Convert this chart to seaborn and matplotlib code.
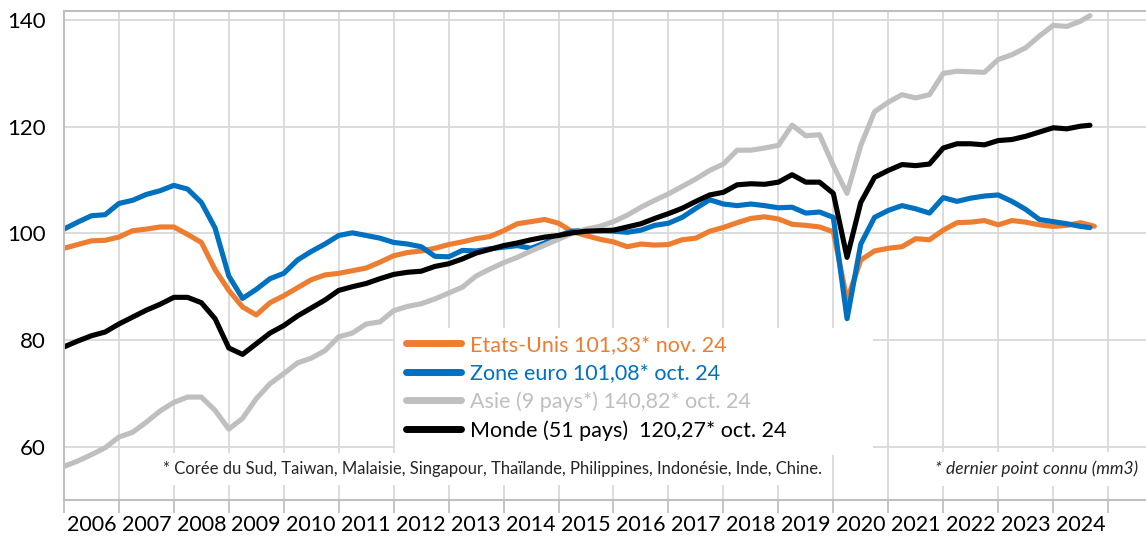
"""Production industrielle : Etats-Unis, zone euro, Asie, monde (base 100)"""

import numpy as np
import pandas as pd
import seaborn as sns
import matplotlib.pyplot as plt
from matplotlib.lines import Line2D
from matplotlib.patches import Rectangle

sns.set_style("whitegrid")
plt.rcParams['font.family'] = ['Lato', 'DejaVu Sans']

# valeurs trimestrielles (2006T1 ...), dernier point = dernier mois connu
etats_unis = [
    97.2, 97.9, 98.6, 98.7,      # 2006
    99.3, 100.5, 100.8, 101.2,   # 2007
    101.2, 99.8, 98.3, 93.2,     # 2008
    89.3, 86.2, 84.7, 87.0,      # 2009
    88.3, 89.8, 91.3, 92.2,      # 2010
    92.5, 93.0, 93.5, 94.6,      # 2011
    95.8, 96.4, 96.7, 97.2,      # 2012
    97.9, 98.4, 99.0, 99.4,      # 2013
    100.5, 101.8, 102.2, 102.6,  # 2014
    101.9, 100.3, 99.6, 98.9,    # 2015
    98.4, 97.5, 98.0, 97.8,      # 2016
    97.9, 98.8, 99.1, 100.4,     # 2017
    101.1, 102.0, 102.8, 103.1,  # 2018
    102.7, 101.7, 101.5, 101.2,  # 2019
    100.3, 87.5, 95.0, 96.7,     # 2020
    97.2, 97.5, 99.0, 98.8,      # 2021
    100.6, 102.0, 102.1, 102.4,  # 2022
    101.6, 102.4, 102.1, 101.6,  # 2023
    101.3, 101.5, 102.0, 101.33, # 2024
]
zone_euro = [
    100.8, 102.1, 103.3, 103.5,
    105.6, 106.2, 107.3, 108.0,
    109.0, 108.3, 105.8, 101.0,
    92.0, 87.8, 89.5, 91.5,
    92.5, 95.0, 96.6, 98.0,
    99.6, 100.1, 99.6, 99.1,
    98.3, 98.0, 97.5, 95.7,
    95.6, 96.8, 96.7, 97.1,
    97.4, 97.7, 97.2, 98.2,
    99.6, 100.4, 100.6, 100.5,
    100.4, 100.2, 100.6, 101.5,
    101.9, 103.0, 104.7, 106.3,
    105.5, 105.2, 105.5, 105.2,
    104.8, 104.9, 103.8, 104.0,
    103.0, 84.0, 98.0, 103.0,
    104.3, 105.2, 104.6, 103.8,
    106.7, 106.0, 106.6, 107.0,
    107.2, 106.0, 104.5, 102.6,
    102.2, 101.8, 101.3, 101.08,
]
asie = [
    56.3, 57.3, 58.5, 59.8,
    61.8, 62.7, 64.6, 66.7,
    68.3, 69.3, 69.3, 66.8,
    63.3, 65.3, 69.0, 71.8,
    73.7, 75.7, 76.6, 78.0,
    80.6, 81.3, 83.0, 83.4,
    85.5, 86.3, 86.8, 87.7,
    88.8, 89.9, 92.0, 93.3,
    94.5, 95.5, 96.7, 97.8,
    98.9, 100.0, 100.8, 101.3,
    102.2, 103.4, 104.9, 106.2,
    107.4, 108.8, 110.2, 111.8,
    113.0, 115.6, 115.6, 116.0,
    116.5, 120.3, 118.3, 118.5,
    112.7, 107.5, 116.5, 122.8,
    124.6, 126.0, 125.4, 126.0,
    130.0, 130.4, 130.3, 130.2,
    132.6, 133.5, 134.8, 137.0,
    139.0, 138.8, 139.8, 140.82,
]
monde = [
    78.7, 79.8, 80.8, 81.5,
    83.0, 84.3, 85.6, 86.7,
    88.0, 88.0, 87.0, 84.0,
    78.5, 77.3, 79.3, 81.3,
    82.7, 84.5, 86.0, 87.5,
    89.3, 90.0, 90.6, 91.5,
    92.3, 92.7, 92.9, 93.8,
    94.3, 95.2, 96.3, 97.0,
    97.7, 98.2, 98.8, 99.3,
    99.6, 100.1, 100.4, 100.5,
    100.6, 101.2, 101.8, 102.8,
    103.7, 104.7, 106.0, 107.2,
    107.7, 109.1, 109.3, 109.2,
    109.6, 111.0, 109.6, 109.6,
    107.5, 95.5, 105.8, 110.5,
    111.8, 112.9, 112.7, 113.0,
    116.0, 116.8, 116.8, 116.6,
    117.4, 117.6, 118.2, 119.0,
    119.8, 119.6, 120.1, 120.27,
]
dernier_point = [2024.75, 2024.67, 2024.67, 2024.67]  # nov. 24 / oct. 24

series = ['Etats-Unis', 'Zone euro', 'Asie', 'Monde']
labels = ['Etats-Unis 101,33* nov. 24',
          'Zone euro 101,08* oct. 24',
          'Asie (9 pays*) 140,82* oct. 24',
          'Monde (51 pays)  120,27* oct. 24']
colors = ['#ED7D31', '#0070C0', '#BFBFBF', '#000000']
years = list(range(2006, 2025))

frames = []
for name, vals, last in zip(series, [etats_unis, zone_euro, asie, monde], dernier_point):
    t = 2006 + np.arange(len(vals)) / 4
    t[-1] = last
    frames.append(pd.DataFrame({'annee': t, 'indice': vals, 'serie': name}))
df = pd.concat(frames, ignore_index=True)

fig = plt.figure(figsize=(11.46, 5.36), dpi=100)
ax = fig.add_axes([0.0558, 0.0672, 0.9442, 0.9123])

sns.lineplot(data=df, x='annee', y='indice', hue='serie', hue_order=series,
             palette=dict(zip(series, colors)), linewidth=3.7, estimator=None,
             legend=False, ax=ax)

ax.set_xlim(2006, 2025.69)
ax.set_ylim(50, 141.7)
ax.set_yticks([60, 80, 100, 120, 140])
ax.set_xticks(range(2006, 2026))
ax.set_xticks(np.arange(2006.5, 2025, 1), minor=True)
ax.set_xticklabels([])
ax.set_xticklabels([str(y) for y in years], minor=True)
ax.tick_params(axis='x', which='major', bottom=True, length=9, width=1.3,
               color='#bfbfbf', direction='out')
ax.tick_params(axis='x', which='minor', bottom=True, length=0, pad=11,
               labelsize=15.5, labelcolor='black')
ax.tick_params(axis='y', length=0, pad=13, labelsize=16, labelcolor='black')
ax.grid(which='major', color='#d9d9d9', linewidth=1.3)
ax.grid(which='minor', visible=False)
ax.set_xlabel('')
ax.set_ylabel('')
for side in ['left', 'bottom', 'top']:
    ax.spines[side].set_visible(True)
    ax.spines[side].set_color('#bfbfbf')
    ax.spines[side].set_linewidth(1.5)
ax.spines['right'].set_visible(False)

# fond blanc de la légende
ax.add_patch(Rectangle((395 / 1146, 1 - 455 / 536), 478 / 1146, 127 / 536,
                       transform=fig.transFigure, facecolor='white',
                       edgecolor='none', zorder=1.5))
handles = [Line2D([], [], color=c, linewidth=5) for c in colors]
ax.legend(handles, labels, loc='upper left',
          bbox_to_anchor=(406 / 1146, 1 - 335 / 536), bbox_transform=fig.transFigure,
          frameon=False, fontsize=15.5, handlelength=2.55, handletextpad=0.42,
          labelspacing=0.38, borderpad=0, borderaxespad=0, labelcolor=colors)

fig.text(163 / 1146, 1 - 469 / 536,
         '* Corée du Sud, Taiwan, Malaisie, Singapour, Thaïlande, Philippines, Indonésie, Inde, Chine.',
         fontsize=12, ha='left', va='center',
         bbox=dict(facecolor='white', edgecolor='none', pad=6))
fig.text(1138 / 1146, 1 - 469 / 536, '* dernier point connu (mm3)',
         fontsize=12.5, style='italic', ha='right', va='center',
         bbox=dict(facecolor='white', edgecolor='none', pad=6))

plt.savefig('out.png', dpi=100)
plt.close()
